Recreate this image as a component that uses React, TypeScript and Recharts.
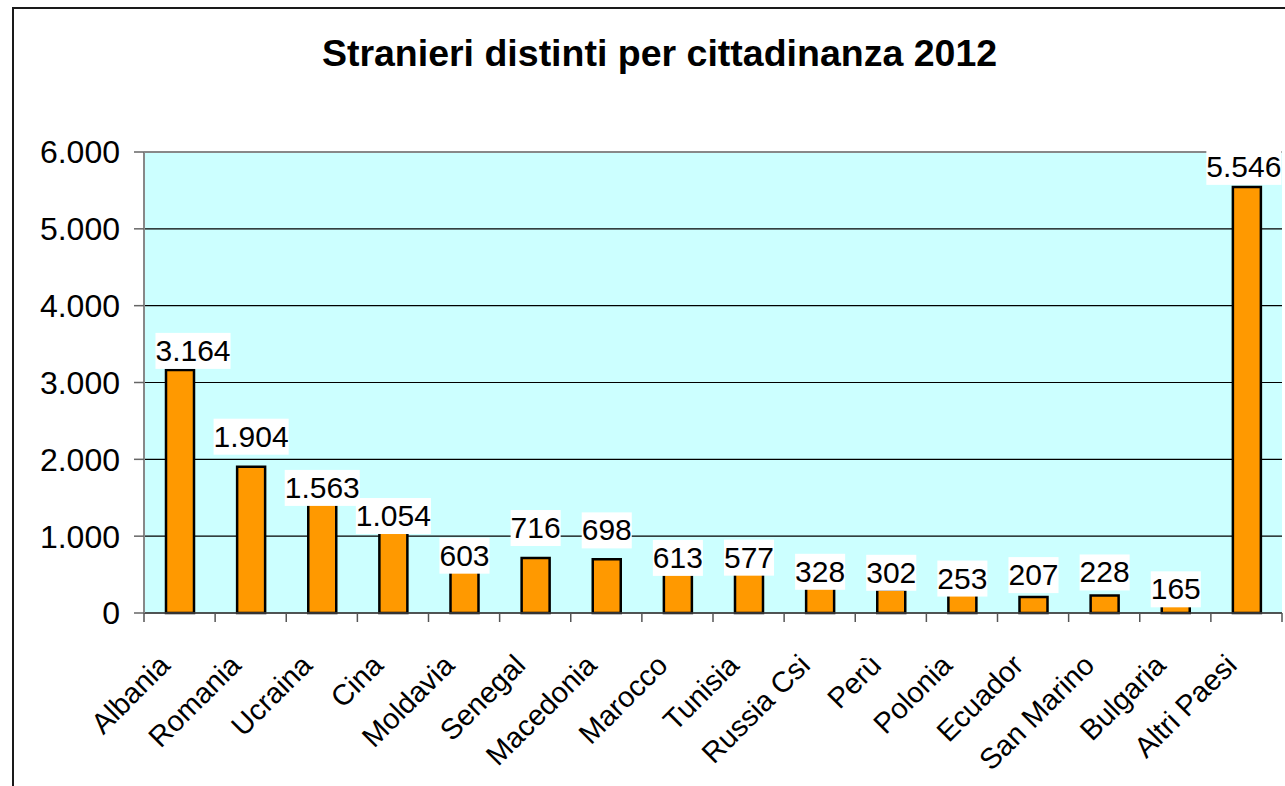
import React from 'react';
import { BarChart, Bar, XAxis, YAxis, CartesianGrid, ReferenceLine, LabelList } from 'recharts';

const categories = [
  'Albania', 'Romania', 'Ucraina', 'Cina', 'Moldavia', 'Senegal', 'Macedonia', 'Marocco',
  'Tunisia', 'Russia Csi', 'Perù', 'Polonia', 'Ecuador', 'San Marino', 'Bulgaria', 'Altri Paesi',
];
const values = [3164, 1904, 1563, 1054, 603, 716, 698, 613, 577, 328, 302, 253, 207, 228, 165, 5546];
const yTicks = [0, 1000, 2000, 3000, 4000, 5000, 6000];
const title = 'Stranieri distinti per cittadinanza 2012';

// where each value box sits relative to the top of its bar (the labels were moved by hand)
const labelShift = [
  [13, -1], [0, -12], [0, 13], [0, 2], [0, 7], [0, -12], [0, -11], [0, 10],
  [0, 7], [0, 2], [0, 1], [0, 3], [0, -4], [0, -5], [0, 7], [-3, -2],
];

const FONT = '"Liberation Sans", Arial, Helvetica, sans-serif';
const W = 1285;
const H = 786;
const PLOT_LEFT = 144;
const PLOT_RIGHT = 1282;
const PLOT_TOP = 152;
const PLOT_BOTTOM = 613;
const BAND = (PLOT_RIGHT - PLOT_LEFT) / categories.length;

const data = categories.map((name, i) => ({ name, value: values[i] }));

const fmt = (v: number) => String(v).replace(/\B(?=(\d{3})+(?!\d))/g, '.');

const ValueLabel = (props: any) => {
  const { x, y, width, value, index } = props;
  const text = fmt(value);
  const tw = text.split('').reduce((s, c) => s + (c === '.' ? 0.278 : 0.556), 0) * 30;
  const [dx, dy] = labelShift[index];
  const cx = Number(x) + Number(width) / 2 + dx;
  const bottom = Number(y) + dy;
  return (
    <g>
      <rect x={cx - tw / 2} y={bottom - 36} width={tw} height={36} fill="#fff" />
      <text x={cx} y={bottom - 8} textAnchor="middle" fontSize={30} fill="#000" fontFamily={FONT}>
        {text}
      </text>
    </g>
  );
};

const CategoryTick = (props: any) => {
  const { x, y, payload, index } = props;
  const left = x - BAND / 2;
  return (
    <g>
      <line x1={left} y1={y} x2={left} y2={y + 9} stroke="#555" strokeWidth={1.5} />
      {index === categories.length - 1 && (
        <line x1={x + BAND / 2} y1={y} x2={x + BAND / 2} y2={y + 9} stroke="#555" strokeWidth={1.5} />
      )}
      <g transform={`translate(${x - 8},${y + 54})`}>
        <text textAnchor="end" transform="rotate(-45)" fontSize={29} fill="#000" fontFamily={FONT}>
          {payload.value}
        </text>
      </g>
    </g>
  );
};

export default function App() {
  return (
    <div style={{ position: 'absolute', left: 0, top: 0, width: W, height: H, overflow: 'hidden', background: '#fff' }}>
      <div
        style={{
          position: 'absolute', left: 12, top: 7, width: W + 20, height: H + 20,
          borderLeft: '2px solid #1a1a1a', borderTop: '2px solid #1a1a1a', boxSizing: 'border-box',
        }}
      />
      <div
        style={{
          position: 'absolute', left: 0, width: 1319, top: 35, textAlign: 'center',
          fontFamily: FONT, fontWeight: 'bold', fontSize: 37.5, lineHeight: '37px', color: '#000',
        }}
      >
        {title}
      </div>
      <div style={{ position: 'absolute', left: 0, top: 0 }}>
        <BarChart
          width={W}
          height={H}
          data={data}
          margin={{ top: PLOT_TOP, right: W - PLOT_RIGHT, bottom: 0, left: 14 }}
        >
          <CartesianGrid vertical={false} stroke="#000" strokeWidth={1.2} fill="#CCFFFF" fillOpacity={1} />
          <XAxis
            dataKey="name"
            height={H - PLOT_BOTTOM}
            interval={0}
            tickLine={false}
            tickSize={0}
            tickMargin={0}
            axisLine={{ stroke: '#444', strokeWidth: 1.5 }}
            tick={<CategoryTick />}
          />
          <YAxis
            width={PLOT_LEFT - 14}
            domain={[0, 6000]}
            ticks={yTicks}
            tickFormatter={fmt}
            tickSize={10}
            tickMargin={14}
            axisLine={{ stroke: '#888', strokeWidth: 2 }}
            tickLine={{ stroke: '#666', strokeWidth: 1.5 }}
            tick={{ fontSize: 32, fill: '#000', fontFamily: FONT }}
          />
          <YAxis
            yAxisId="right"
            orientation="right"
            width={0}
            domain={[0, 6000]}
            tick={false}
            tickLine={false}
            axisLine={{ stroke: '#888', strokeWidth: 2 }}
          />
          <ReferenceLine y={6000} stroke="#888" strokeWidth={2} />
          <Bar dataKey="value" fill="#FF9900" stroke="#000" strokeWidth={2.5} barSize={28} isAnimationActive={false}>
            <LabelList dataKey="value" content={<ValueLabel />} />
          </Bar>
        </BarChart>
      </div>
    </div>
  );
}
